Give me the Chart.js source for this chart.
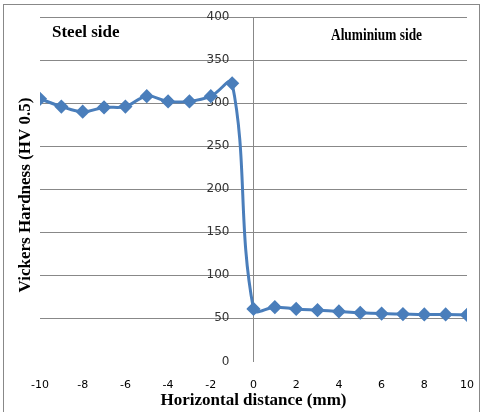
<!DOCTYPE html>
<html>
<head>
<meta charset="utf-8">
<script src="https://cdn.jsdelivr.net/npm/chart.js@4"></script>
<style>
  body { margin: 0; background: #fff; }
  #wrap { width: 482px; height: 412px; }
</style>
</head>
<body>
<div id="wrap"><canvas id="chart" width="482" height="412"></canvas></div>
<script>
// values
const distance = [-10, -9, -8, -7, -6, -5, -4, -3, -2, -1, 0, 1, 2, 3, 4, 5, 6, 7, 8, 9, 10];
const hardness = [305, 296, 290, 295, 296, 308, 302, 302, 308, 323, 61, 63, 61, 59.5, 58, 56.5, 55.5, 55, 54.5, 54.5, 54];
const sideLabels = ['Steel side', 'Aluminium side'];

const lineBlue = '#4A7EBB';

// frame round the picture plus the two side notes and the y title
const extras = {
  id: 'extras',
  afterDraw(chart) {
    const ctx = chart.ctx;
    ctx.save();
    ctx.strokeStyle = '#888';
    ctx.lineWidth = 1;
    ctx.strokeRect(3.5, 4.5, 476, 420);

    ctx.fillStyle = '#000';
    ctx.font = 'bold 17px "Liberation Serif", "Times New Roman", serif';
    ctx.textBaseline = 'middle';
    ctx.textAlign = 'left';
    ctx.fillText(sideLabels[0], 52, 33, 70);
    ctx.fillText(sideLabels[1], 331, 36, 91);

    ctx.translate(26, 195);
    ctx.rotate(-Math.PI / 2);
    ctx.textAlign = 'center';
    ctx.fillText('Vickers Hardness (HV 0.5)', 0, 0);
    ctx.restore();
  }
};

const ctx = document.getElementById('chart').getContext('2d');
new Chart(ctx, {
  type: 'line',
  data: {
    datasets: [{
      data: distance.map((d, i) => ({ x: d, y: hardness[i] })),
      borderColor: lineBlue,
      backgroundColor: lineBlue,
      borderWidth: 3,
      tension: 0.4,
      pointStyle: 'rectRot',
      pointRadius: 5,
      pointHoverRadius: 5,
      fill: false
    }]
  },
  options: {
    responsive: false,
    animation: false,
    plugins: { legend: { display: false }, tooltip: { enabled: false } },
    layout: { padding: { left: 40, right: 15, top: 17, bottom: 0 } },
    scales: {
      x: {
        type: 'linear',
        min: -10,
        max: 10,
        ticks: {
          stepSize: 2,
          padding: 3,
          color: '#000',
          font: { family: 'DejaVu Sans', size: 11 }
        },
        // tick marks are hidden, their length only pushes the labels down
        grid: { display: false, drawTicks: true, tickLength: 14 },
        border: { display: false },
        title: {
          display: true,
          text: 'Horizontal distance (mm)',
          color: '#000',
          font: { family: '"Liberation Serif", serif', size: 17, weight: 'bold' },
          padding: { top: -4, bottom: 1 }
        }
      },
      y: {
        position: { x: 0 },
        min: 0,
        max: 400,
        ticks: {
          stepSize: 50,
          color: '#333',
          font: { family: 'DejaVu Sans', size: 12 },
          // labels sit centred on the axis, trailing spaces push them left
          callback: v => v + '\u2002\u2002\u2002\u2002'
        },
        grid: {
          drawTicks: false,
          color: c => (c.tick && c.tick.value === 0 ? 'rgba(0,0,0,0)' : '#888')
        },
        border: { display: true, color: '#888' }
      }
    }
  },
  plugins: [extras]
});
</script>
</body>
</html>
